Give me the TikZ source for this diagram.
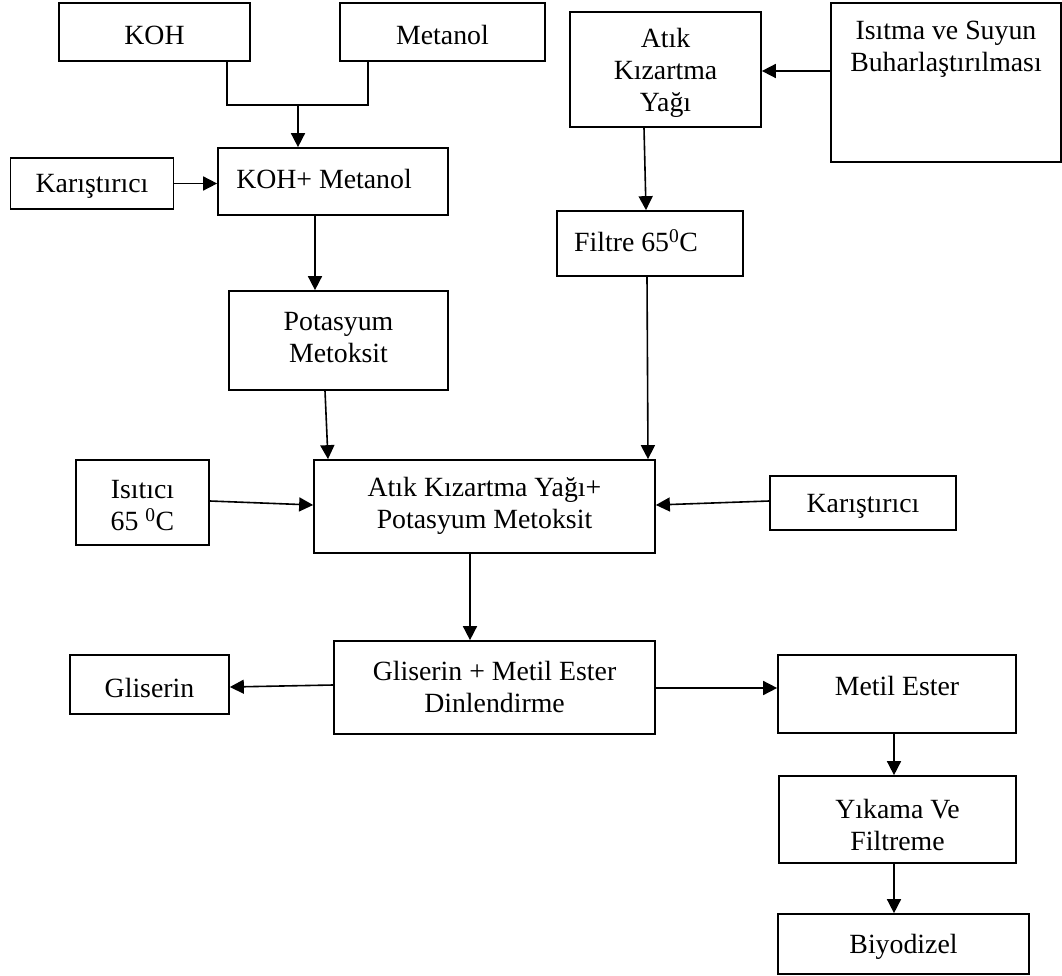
\documentclass[tikz,border=0pt]{standalone}
\usepackage{fontspec}
\setmainfont{Liberation Serif}
\usetikzlibrary{arrows.meta}
\begin{document}
\begin{tikzpicture}[x=1pt,y=-1pt,
  box/.style={draw, line width=1.7pt, inner sep=0pt},
  txt/.style={font=\fontsize{27.8}{32}\selectfont, align=center, inner sep=0pt, yshift=-3pt},
  conn/.style={line width=1.6pt},
  arr/.style={line width=1.6pt, -{Triangle[length=14pt,width=14pt]}}]
\useasboundingbox (0,0) rectangle (1062,976);

% top-left
\node[box, minimum width=191pt, minimum height=58pt,
  label={[txt]center:KOH}] (koh) at (154.5,32) {};
\node[box, minimum width=205pt, minimum height=58pt,
  label={[txt]center:Metanol}] (met) at (442.5,32) {};
\node[box, minimum width=230pt, minimum height=67pt,
  label={[txt,xshift=-9pt,yshift=5.5pt]center:KOH+ Metanol}] (km) at (333,181.5) {};
\node[box, minimum width=163pt, minimum height=51pt,
  label={[txt]center:Karıştırıcı}] (karL) at (92,183.5) {};
\node[box, minimum width=219pt, minimum height=99pt,
  label={[txt,yshift=5.5pt]center:Potasyum\\Metoksit}] (pot) at (338.5,340.5) {};

% top-right
\node[box, minimum width=191pt, minimum height=115pt,
  label={[txt]center:Atık\\Kızartma\\Yağı}] (atik) at (665.5,69.5) {};
\node[box, minimum width=230pt, minimum height=159pt,
  label={[txt,yshift=36.5pt]center:Isıtma ve Suyun\\Buharlaştırılması}] (isi) at (946,82.5) {};
\node[box, minimum width=186pt, minimum height=65pt,
  label={[txt,xshift=-14pt,yshift=5.5pt]center:Filtre 65\textsuperscript{0}C}] (fil) at (650,243.5) {};

% middle
\node[box, minimum width=341pt, minimum height=93pt,
  label={[txt,yshift=4pt]center:Atık Kızartma Yağı+\\Potasyum Metoksit}] (big) at (484.5,506.5) {};
\node[box, minimum width=133pt, minimum height=85pt,
  label={[txt]center:Isıtıcı\\65 \textsuperscript{0}C}] (ist) at (142.5,502.5) {};
\node[box, minimum width=186pt, minimum height=54pt,
  label={[txt]center:Karıştırıcı}] (karR) at (863,503) {};

% lower
\node[box, minimum width=321pt, minimum height=93pt,
  label={[txt,yshift=3.5pt]center:Gliserin + Metil Ester\\Dinlendirme}] (gm) at (494.5,687.5) {};
\node[box, minimum width=159pt, minimum height=59pt,
  label={[txt]center:Gliserin}] (gl) at (149.5,684.5) {};
\node[box, minimum width=238pt, minimum height=78pt,
  label={[txt,yshift=11pt]center:Metil Ester}] (me) at (897,694) {};
\node[box, minimum width=237pt, minimum height=87pt,
  label={[txt,yshift=-2.5pt]center:Yıkama Ve\\Filtreme}] (yk) at (897.5,819.5) {};
\node[box, minimum width=251pt, minimum height=60pt,
  label={[txt]center:Biyodizel}] (bio) at (903.5,944) {};

% connectors
\coordinate (jn) at (298,105);
\draw[conn] ([xshift=72.5pt]koh.south) |- (jn) -| ([xshift=-74.5pt]met.south);
\draw[arr] (jn) -- (jn |- km.north);
\draw[arr] (karL.east) -- (karL.east -| km.west);
\draw[arr] ([xshift=-18pt]km.south) -- ([xshift=-23.5pt]pot.north);
\draw[arr] ([xshift=-13.5pt]pot.south) -- ([xshift=-156.5pt]big.north);

\coordinate (c1) at ([yshift=11.5pt]isi.west);
\draw[arr] (c1) -- (c1 -| atik.east);
\draw[arr] ([xshift=-21.5pt]atik.south) -- ([xshift=-4pt]fil.north);
\draw[arr] ([xshift=-3pt]fil.south) -- ([xshift=163.5pt]big.north);

\draw[arr] ([yshift=1.5pt]ist.east) -- ([yshift=1.5pt]big.west);
\draw[arr] ([yshift=2pt]karR.west) -- ([yshift=1.5pt]big.east);

\draw[arr] ([xshift=-14.5pt]big.south) -- ([xshift=-24.5pt]gm.north);
\draw[arr] ([yshift=2.5pt]gm.west) -- ([yshift=-2.5pt]gl.east);
\draw[arr] ([yshift=-0.5pt]gm.east) -- ([yshift=6pt]me.west);
\draw[arr] ([xshift=-3pt]me.south) -- ([xshift=-3.5pt]yk.north);
\draw[arr] ([xshift=-3.5pt]yk.south) -- ([xshift=-9.5pt]bio.north);
\end{tikzpicture}
\end{document}
